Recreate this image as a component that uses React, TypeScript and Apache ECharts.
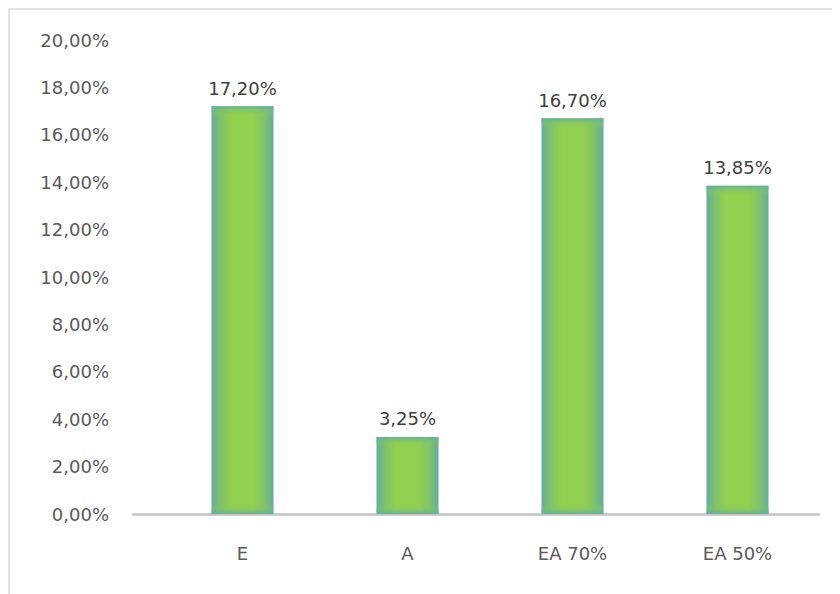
import React, { useEffect, useRef } from "react";
import * as echarts from "echarts";

const categories = ["E", "A", "EA 70%", "EA 50%"];
const values = [17.2, 3.25, 16.7, 13.85];
const yMin = 0;
const yMax = 20;
const yInterval = 2;

const fmt = (v: number) => v.toFixed(2).replace(".", ",") + "%";

const FONT = "'DejaVu Sans', sans-serif";
const FS = 18;

export default function App() {
  const ref = useRef<HTMLDivElement>(null);
  useEffect(() => {
    if (!ref.current) return;
    const chart = echarts.init(ref.current, undefined, { renderer: "svg" });
    const pxPerUnit = 474 / (yMax - yMin);
    const hGrad = {
      type: "linear",
      x: 0,
      y: 0,
      x2: 1,
      y2: 0,
      colorStops: [
        { offset: 0, color: "#64ad9f" },
        { offset: 0.15, color: "#80c26a" },
        { offset: 0.32, color: "#92d050" },
        { offset: 0.68, color: "#92d050" },
        { offset: 0.85, color: "#80c26a" },
        { offset: 1, color: "#64ad9f" },
      ],
    };
    const overlayData = values.map((v) => {
      const h = v * pxPerUnit;
      const f = Math.min(0.3, 10 / h);
      return {
        value: v,
        itemStyle: {
          color: {
            type: "linear",
            x: 0,
            y: 0,
            x2: 0,
            y2: 1,
            colorStops: [
              { offset: 0, color: "rgba(100,173,159,0.85)" },
              { offset: f, color: "rgba(146,208,80,0)" },
              { offset: 1 - f, color: "rgba(146,208,80,0)" },
              { offset: 1, color: "rgba(100,173,159,0.85)" },
            ],
          },
        },
      };
    });
    chart.setOption({
      animation: false,
      grid: [
        { left: 150, top: 30, width: 660, height: 474 },
        { left: 123, top: 30, width: 686, height: 474 },
      ],
      xAxis: [
        {
          type: "category",
          gridIndex: 0,
          data: categories,
          axisLine: { show: false },
          axisTick: { show: false },
          axisLabel: {
            color: "#5a5a5a",
            fontSize: FS,
            fontFamily: FONT,
            margin: 30,
          },
        },
        {
          type: "value",
          gridIndex: 1,
          min: 0,
          max: 1,
          axisLine: { show: true, lineStyle: { color: "#c3c3c3", width: 2.5 } },
          axisTick: { show: false },
          axisLabel: { show: false },
          splitLine: { show: false },
        },
      ],
      yAxis: [
        {
          type: "value",
          gridIndex: 0,
          min: yMin,
          max: yMax,
          interval: yInterval,
          axisLine: { show: false },
          axisTick: { show: false },
          splitLine: { show: false },
          axisLabel: {
            color: "#5a5a5a",
            fontSize: FS,
            fontFamily: FONT,
            margin: 51,
            formatter: (v: number) => fmt(v),
          },
        },
        {
          type: "value",
          gridIndex: 1,
          show: false,
          min: 0,
          max: 1,
        },
      ],
      series: [
        {
          type: "bar",
          xAxisIndex: 0,
          yAxisIndex: 0,
          data: values,
          barWidth: 62,
          itemStyle: { color: hGrad },
          label: {
            show: true,
            position: "top",
            distance: 9,
            color: "#404040",
            fontSize: FS,
            fontFamily: FONT,
            formatter: (p: any) => fmt(p.value),
          },
        },
        {
          type: "bar",
          xAxisIndex: 0,
          yAxisIndex: 0,
          data: overlayData,
          barWidth: 62,
          barGap: "-100%",
          silent: true,
        },
      ],
    });
    return () => chart.dispose();
  }, []);
  return (
    <div
      style={{
        width: 832,
        height: 586,
        boxSizing: "border-box",
        borderTop: "2px solid #e2e2e2",
        borderLeft: "2px solid #e2e2e2",
        overflow: "hidden",
      }}
    >
      <div ref={ref} style={{ width: 830, height: 584 }} />
    </div>
  );
}
